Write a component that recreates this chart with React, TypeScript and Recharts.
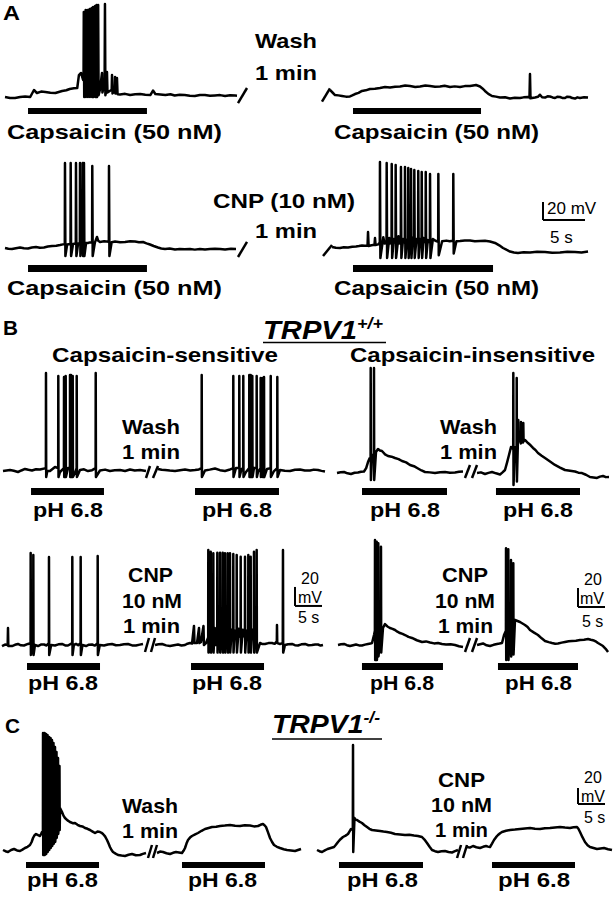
import React from 'react';
import { LineChart, Line, XAxis, YAxis, ReferenceArea, ReferenceLine } from 'recharts';

type Pt = [number, number]; // [time s, membrane potential mV]
type Seg = [number, number, number, number]; // t1, v1, t2, v2

// ---------- Panel A (capsaicin, wash / CNP) ----------
const traceA1: Pt[] = [
  [0, -60], [0.6, -61], [1.2, -61.1], [1.8, -60], [2.4, -59.4], [3.0, -60], [3.45, -52.2], [3.8, -55.6], [4.3, -54],
  [4.8, -54.4], [5.4, -55.2], [6.0, -55.6], [6.8, -53.3], [7.3, -52.5], [7.7, -51.1], [8.2, -50.4], [8.6, -50],
  [8.8, -35.6], [9.05, -33.3], [9.3, -41],
  [9.35, -40], [9.38, 34.4], [9.43, -60], [9.56, -40], [9.6, 36.7], [9.65, -60],
  [9.8, -40], [9.84, 36.7], [9.89, -60], [10.04, -40], [10.08, 37.8], [10.13, -60],
  [10.28, -40], [10.32, 38.9], [10.37, -60], [10.46, -40], [10.5, 40], [10.55, -60],
  [10.69, -40], [10.73, 41.1], [10.78, -60], [10.87, -40], [10.91, 42.2], [10.96, -60],
  [11.05, -40], [11.09, 42.2], [11.14, -58], [11.3, -52], [11.55, -33.3], [11.6, -55],
  [11.86, -45], [11.9, 43.3], [11.95, -58], [12.1, -52], [12.14, -32.2], [12.2, -55],
  [12.7, -52], [12.74, -35.6], [12.8, -56], [13.06, -54], [13.1, -37.8], [13.15, -56],
  [13.3, -55], [13.33, -38.9], [13.4, -57],
  [13.7, -57.2], [14.3, -56.5], [14.9, -57.8], [15.5, -57], [16.1, -56.7], [16.7, -57.5], [17.3, -57.8],
  [17.62, -52.8], [17.9, -56.7], [18.5, -57.2], [19.1, -57.8], [19.7, -57], [20.2, -58.3], [20.8, -57.5],
  [21.4, -57.8], [22.0, -58.5], [22.6, -58.9], [23.2, -57.8], [23.8, -57.8], [24.4, -58.6], [25.0, -58.3],
  [25.6, -57.9], [26.2, -58.9], [26.8, -58], [27.4, -58.3], [27.62, -58.5],
];
const traceA2: Pt[] = [
  [0.95, -52.2], [1.25, -55], [1.55, -57.8], [1.95, -58.2], [2.38, -58.9], [2.85, -59.6], [3.33, -59.4], [3.6, -58.3],
  [3.93, -56.7], [4.35, -55.4], [4.76, -53.3], [5.2, -52.6], [5.71, -51.1], [6.3, -50.8], [6.9, -50], [7.5, -49],
  [8.1, -49.4], [8.7, -48.5], [9.29, -48.3], [9.9, -47.2], [10.48, -47.8], [11.1, -48.8], [11.67, -48.3],
  [12.3, -47.3], [12.86, -47.8], [13.45, -48.6], [14.05, -48.3], [14.6, -47.6], [15.24, -48.9], [15.8, -48.2],
  [16.43, -48.9], [17.0, -47.9], [17.62, -47.8], [18.0, -47.2], [18.33, -46.7], [18.81, -48.3], [19.1, -50.5],
  [19.4, -53.3], [19.8, -56.5], [20.24, -58.9], [20.7, -59.6], [21.19, -60.6], [21.8, -60.2], [22.38, -61.7],
  [22.95, -60.9], [23.57, -61.1], [24.0, -60.4], [24.52, -60], [24.7, -60.5], [24.76, -34.4], [24.82, -61.5],
  [25.36, -60.6], [25.7, -59.8], [25.95, -57.5], [26.2, -60.3], [26.55, -60.6], [26.85, -59.2], [27.14, -59.4],
  [27.45, -60.5], [27.74, -61.1], [28.0, -59.8], [28.33, -60], [28.6, -61], [28.93, -61.1], [29.2, -59.6],
  [29.52, -60], [29.8, -61.2], [30.12, -61.7], [30.4, -60.4], [30.71, -61.1], [31.2, -60.3], [31.67, -60.6],
];
const traceA3: Pt[] = [
  [0, -60], [0.4, -60.8], [0.83, -61.1], [1.3, -60.2], [1.79, -59.4], [2.25, -60.3], [2.74, -60.6], [3.2, -59.5],
  [3.69, -58.9], [4.15, -59.8], [4.64, -59.4], [5.1, -58.4], [5.6, -57.8], [6.1, -57.4], [6.55, -56.7], [6.9, -56],
  [7.12, -55.6], [7.14, 34.4], [7.19, -68.9], [7.4, -56],
  [7.8, -55.5], [7.82, 34.4], [7.87, -68.9], [8.1, -55.5],
  [8.43, -55], [8.45, 34.4], [8.5, -68.9], [8.7, -55],
  [8.91, -55], [8.93, 34.4], [8.98, -68.9], [9.1, -55],
  [9.23, -55], [9.25, 34.4], [9.3, -68.9],
  [9.38, -55], [9.4, 34.4], [9.45, -68.9], [9.65, -54.5], [9.88, -54.4], [10.1, -53.8],
  [10.37, -54], [10.39, 31.1], [10.44, -68.9], [10.7, -54], [10.95, -47.8], [11.1, -52], [11.31, -53.3], [11.8, -52.6],
  [12.36, -53], [12.38, 31.1], [12.43, -68.9], [12.7, -53.5], [13.1, -52.8], [13.7, -53.6], [14.29, -53.3],
  [14.9, -52.5], [15.48, -52.8], [15.95, -53.6], [16.43, -53.3], [16.85, -54.8], [17.26, -56.1], [17.7, -57.8],
  [18.21, -59.4], [18.6, -60.5], [19.05, -61.1], [19.6, -60.6], [20.24, -61.7], [20.8, -61], [21.4, -61.5],
  [22.02, -61.1], [22.6, -61.8], [23.2, -61], [23.81, -61.7], [24.4, -61.2], [25.0, -60.8], [25.6, -61.1],
  [26.2, -61.7], [26.9, -60.9], [27.5, -61.1],
];
const traceA4: Pt[] = [
  [1.19, -58.9], [1.65, -59.8], [2.14, -60], [2.6, -59.2], [3.1, -59.4], [3.6, -58.6], [4.05, -58.3], [4.4, -57.8],
  [4.76, -57.2], [5.1, -57.6], [5.42, -57.5], [5.48, -42.2], [5.55, -57.8], [5.9, -57], [6.25, -56.5], [6.31, -48.9],
  [6.38, -56.7], [6.7, -56],
  [6.88, -54], [6.9, 35.6], [6.95, -71.1], [7.3, -48], [7.45, -55],
  [7.68, -54], [7.7, 34.4], [7.75, -71.1], [8.0, -49], [8.1, -55],
  [8.28, -54], [8.3, 33.3], [8.35, -71.1], [8.55, -50],
  [8.75, -54], [8.77, 32.2], [8.82, -71.1], [9.1, -47], [9.2, -55],
  [9.38, -54], [9.4, 30], [9.45, -71.1], [9.65, -50],
  [9.86, -54], [9.88, 30], [9.93, -71.1], [10.1, -51],
  [10.25, -54], [10.27, 28.9], [10.32, -71.1], [10.45, -52],
  [10.58, -54], [10.6, 27.8], [10.65, -71.1], [10.8, -49],
  [10.97, -54], [10.99, 26.7], [11.04, -71.1], [11.25, -50],
  [11.44, -54], [11.46, 25.6], [11.51, -71.1], [11.7, -50],
  [11.85, -54], [11.87, 24.4], [11.92, -71.1], [12.1, -49],
  [12.33, -54], [12.35, 24.4], [12.4, -71.1], [12.6, -51],
  [12.84, -54], [12.86, 22.2], [12.91, -71.1], [13.2, -50], [13.5, -52],
  [13.83, -53], [13.85, 22.2], [13.9, -68], [14.3, -52.5], [14.8, -51.8], [15.2, -52.4],
  [15.61, -52], [15.63, 22.2], [15.68, -66], [16.0, -52.5], [16.43, -52.2], [17.0, -51.6], [17.62, -51.7],
  [18.2, -52.4], [18.81, -52.2], [19.4, -52], [20.0, -52.8], [20.6, -54.4], [21.1, -57], [21.55, -60], [22.0, -62.2],
  [22.38, -63.9], [22.85, -65], [23.33, -65.6], [24.0, -64.8], [24.76, -65], [25.6, -64.2], [26.55, -64.4],
  [27.4, -65.2], [28.33, -65], [29.2, -64.3], [30.12, -64.4], [30.9, -65], [31.67, -63.9],
];
const barA1: [number, number] = [2.74, 16.9];
const barA2: [number, number] = [3.69, 18.93];
const barA3: [number, number] = [2.74, 16.9];
const barA4: [number, number] = [3.69, 20.36];

// ---------- Panel B (TRPV1+/+, pH 6.8) ----------
const traceB1: Pt[] = [
  [0, -61.1], [1.3, -60], [2.0, -60.8], [2.78, -62.1], [3.4, -60.5], [4.07, -58.9], [4.7, -59.8], [5.37, -60.5],
  [6.1, -59.2], [6.85, -59.5], [7.94, -58], [7.96, 42.1], [8.0, -67.4], [8.2, -61], [8.7, -61.1], [9.63, -56.8],
  [10.22, -58], [10.24, 38.9], [10.28, -67.4], [10.56, -62.1], [11.28, -58], [11.3, 37.9], [11.34, -67.4],
  [11.59, -58], [11.61, 38.9], [11.65, -67.4], [12.04, -57.9], [12.39, -58], [12.41, 40], [12.45, -67.4],
  [12.57, -58], [12.59, 40], [12.63, -67.4], [12.89, -58], [12.91, 38.9], [12.95, -67.4], [13.33, -63.2],
  [13.63, -58], [13.65, 38.9], [13.69, -67.4], [14.26, -60], [15.0, -59.3], [15.74, -61.1], [16.5, -60.2],
  [17.15, -58], [17.17, 42.1], [17.21, -67.4], [17.96, -60.5], [18.9, -59.6], [19.81, -61.1], [20.7, -60.3],
  [21.67, -60], [22.6, -61], [23.52, -59.5], [24.4, -60.6], [25.37, -60], [26.48, -61.1],
];
const traceB2: Pt[] = [
  [0.93, -58.9], [1.6, -59.8], [2.22, -60], [3.1, -60.6], [4.07, -61.1], [5.0, -60.2], [5.93, -59.5], [6.9, -60.5],
  [7.78, -60], [8.5, -59.4], [9.0, -58], [9.02, 40], [9.06, -67.4], [9.63, -60.5], [10.5, -59.6], [11.48, -58.4],
  [12.4, -60.2], [13.33, -61.1], [14.1, -59.8], [14.85, -58], [14.87, 38.9], [14.91, -67.4], [15.37, -57.9],
  [15.96, -58], [15.98, 38.9], [16.02, -67.4], [16.4, -59], [16.7, -58], [16.72, 38.9], [16.76, -67.4],
  [17.22, -62.1], [17.81, -58], [17.83, 40], [17.87, -67.4], [18.07, -58], [18.09, 40], [18.13, -67.4],
  [18.37, -58], [18.39, 38.9], [18.43, -67.4], [18.7, -57.9], [19.18, -58], [19.2, 38.9], [19.24, -67.4],
  [19.44, -62.1], [19.92, -58], [19.94, 36.8], [19.98, -67.4], [20.29, -58], [20.31, 36.8], [20.35, -67.4],
  [20.54, -58], [20.56, 37.9], [20.6, -67.4], [21.11, -58.9], [21.78, -58], [21.8, 38.9], [21.84, -67.4],
  [22.41, -61.1], [23.0, -58], [23.02, 37.9], [23.06, -67.4], [23.52, -60], [24.4, -60.8], [25.37, -61.1],
  [26.3, -59.7], [27.22, -59.5], [28.1, -60.6], [29.07, -60.5], [29.8, -59.6], [30.56, -60], [31.2, -60.9],
  [31.85, -61.6],
];
const traceB3: Pt[] = [
  [0, -63.2], [0.65, -62.4], [1.3, -62.1], [1.95, -63.5], [2.59, -64.2], [3.25, -62.9], [3.89, -62.6], [4.45, -61.8],
  [5.0, -61.6], [5.4, -58], [5.74, -51.6], [6.0, -48], [6.22, -47], [6.24, 47.4], [6.28, -70.5], [6.48, -44.2],
  [6.83, -45], [6.85, 47.4], [6.89, -70.5], [7.22, -41.1], [7.59, -37.9], [7.95, -39.5], [8.33, -40], [8.9, -43.5],
  [9.44, -45.3], [10.1, -46], [10.74, -47.4], [11.4, -48.5], [12.04, -50.5], [12.8, -52], [13.52, -54.7],
  [14.25, -56], [15.0, -58.4], [15.65, -60.5], [16.3, -62.1], [17.2, -62.5], [18.15, -63.2], [19.1, -62.4],
  [20.0, -62.1], [20.9, -63], [21.85, -62.6], [22.6, -61.9], [23.33, -61.6],
];
const traceB4: Pt[] = [
  [0.93, -63.2], [1.65, -62.5], [2.41, -64.2], [3.05, -63], [3.7, -62.1], [4.45, -63.5], [5.19, -64.7], [5.65, -62.5],
  [6.11, -60], [6.5, -52], [6.85, -44.2], [7.22, -35.8], [7.63, -38], [7.65, 42.1], [7.69, -75.8], [7.95, -36],
  [8.26, -38], [8.28, 36.8], [8.32, -72], [8.5, -30], [8.57, -7.4], [8.62, -30], [8.89, -28.4], [9.05, -32],
  [9.07, -9.5], [9.12, -31], [9.26, -29.5], [9.45, -31], [9.5, -10.5], [9.55, -30], [9.81, -28.4], [10.37, -31.6],
  [10.85, -34], [11.3, -36.8], [11.75, -39], [12.22, -42.1], [12.9, -45], [13.52, -47.4], [14.45, -51],
  [15.37, -54.7], [16.3, -57.5], [17.22, -60], [18.15, -60.8], [19.07, -61.6], [19.7, -62.8], [20.37, -63.2],
  [21.1, -65], [21.85, -67.4], [22.5, -67.8], [23.15, -68.4], [23.7, -67], [24.26, -66.3], [24.8, -67.5],
  [25.37, -67.4],
];
const traceB5: Pt[] = [
  [0, -61.1], [0.56, -59.5], [1.05, -60], [1.11, -42.1], [1.17, -61], [1.85, -61.1], [2.4, -59.8], [2.96, -58.9],
  [3.5, -60.3], [4.07, -60.5], [4.81, -58.9], [5.29, -58], [5.31, 36.8], [5.35, -70.5], [5.55, -60], [5.78, -58],
  [5.8, 34.7], [5.84, -70.5], [6.1, -60], [6.67, -61.1], [7.2, -59.6], [7.78, -59.5], [8.25, -60.5], [8.68, -58],
  [8.7, 32.6], [8.74, -70.5], [9.1, -60], [9.81, -60.5], [10.45, -59.3], [11.11, -58.9], [11.7, -60.4],
  [12.22, -60.5], [13.0, -58], [13.02, 32.6], [13.06, -70.5], [13.3, -60], [13.7, -58.9], [14.1, -60.2],
  [14.55, -58], [14.57, 32.6], [14.61, -70.5], [14.9, -60], [15.56, -61.1], [16.1, -59.7], [16.67, -59.5],
  [17.2, -60.6], [17.7, -58], [17.72, 33.7], [17.76, -70.5], [18.1, -60], [18.89, -60.5], [19.6, -59.4],
  [20.37, -58.9], [21.1, -60.3], [21.85, -60], [22.6, -59.2], [23.33, -58.9], [24.1, -60.4], [24.81, -60.5],
  [25.5, -59.6], [26.11, -58.9],
];
const traceB6: Pt[] = [
  [0.74, -60], [1.4, -59.2], [2.04, -58.9], [2.8, -60.4], [3.52, -61.1], [4.25, -60.2], [5.0, -59.5], [5.65, -60.6],
  [6.3, -60], [6.75, -58.6], [7.22, -57.9], [7.6, -58.5], [7.96, -40], [8.05, -58], [8.52, -57.9], [8.89, -42.1],
  [8.98, -58], [9.26, -56.8], [9.72, -40], [9.8, -60], [10.19, -57.9],
  [10.59, -52], [10.61, 40], [10.65, -68], [10.85, -45],
  [11.04, -52], [11.06, 38.2], [11.1, -68], [11.3, -44],
  [11.52, -52], [11.54, 36.5], [11.58, -68], [11.8, -42], [12.0, -60],
  [12.26, -52], [12.28, 37.2], [12.32, -68], [12.55, -45],
  [12.76, -52], [12.78, 37.2], [12.82, -68], [13.05, -44],
  [13.26, -52], [13.28, 37.2], [13.32, -68], [13.5, -46],
  [13.68, -52], [13.7, 36.5], [13.74, -68], [13.95, -43],
  [14.18, -52], [14.2, 36.5], [14.24, -68], [14.4, -45],
  [14.61, -52], [14.63, 36.5], [14.67, -68], [14.95, -44],
  [15.22, -52], [15.24, 35.8], [15.28, -68], [15.55, -45],
  [15.85, -52], [15.87, 34.7], [15.91, -68], [16.25, -43],
  [16.59, -52], [16.61, 32.9], [16.65, -68], [17.0, -44],
  [17.39, -52], [17.41, 32.9], [17.45, -68], [17.7, -45],
  [18.0, -52], [18.02, 34.7], [18.06, -68], [18.25, -46],
  [18.44, -52], [18.46, 32.9], [18.5, -68], [18.75, -44],
  [19.05, -52], [19.07, 38.2], [19.11, -68], [19.3, -46],
  [19.55, -52], [19.57, 40], [19.61, -68],
  [20.19, -57.9], [20.65, -59], [21.11, -58.9], [21.75, -58], [22.41, -57.9], [22.9, -58.8], [23.3, -56],
  [23.33, -38.9], [23.38, -58], [23.89, -58.9], [24.4, -58], [24.44, 40], [24.48, -68], [24.81, -60], [25.4, -59.2],
  [26.11, -58.9], [26.65, -60.2], [27.22, -60.5], [27.85, -59.3], [28.52, -58.9], [29.15, -60.3], [29.81, -60],
  [30.4, -59.4], [30.93, -59.5], [31.4, -60.6], [31.85, -60],
];
const traceB7: Pt[] = [
  [0, -60], [0.55, -59.3], [1.11, -58.9], [1.65, -60.2], [2.22, -61.1], [2.8, -60.3], [3.33, -59.5], [3.9, -60.4],
  [4.44, -60.5], [5.0, -59.6], [5.56, -58.9], [6.0, -58.5], [6.3, -57.9], [6.67, -49.5], [6.83, -45], [6.85, 50.5],
  [6.89, -75.8], [7.15, -45], [7.17, 48.7], [7.21, -75.8], [7.44, -45], [7.46, 47.1], [7.5, -72], [7.94, -44],
  [7.96, 43.5], [8.0, -68], [8.33, -42.1], [8.7, -37.9], [9.15, -40.5], [9.63, -42.1], [10.1, -43], [10.56, -44.2],
  [11.0, -46], [11.48, -47.4], [11.95, -48.3], [12.41, -49.5], [13.05, -51.5], [13.7, -52.6], [14.6, -55],
  [15.56, -56.8], [16.3, -56.2], [17.04, -57.4], [17.8, -58.3], [18.52, -57.9], [19.25, -59], [20.0, -59.5],
  [20.85, -59.2], [21.67, -60], [22.4, -61.3], [23.15, -62.1],
];
const traceB8: Pt[] = [
  [0.93, -60], [1.5, -59.2], [2.04, -58.4], [2.7, -60.3], [3.33, -61.1], [4.0, -59.8], [4.63, -58.9], [5.1, -58.5],
  [5.56, -57.9], [5.93, -49.5], [6.28, -45], [6.3, 41.8], [6.34, -75.8], [6.7, -42], [6.72, 40.7], [6.76, -75.8],
  [7.04, -31.6], [7.2, -35], [7.22, 29.5], [7.26, -72], [7.63, -36], [7.65, 26], [7.69, -70], [7.96, -33.7],
  [8.89, -35.8], [9.81, -38.9], [10.3, -41], [10.74, -44.2], [11.5, -47], [12.22, -49.5], [12.9, -53],
  [13.52, -55.8], [14.2, -57], [14.81, -57.9], [15.4, -58.6], [15.93, -58.4], [16.6, -57.5], [17.22, -56.8],
  [17.9, -56], [18.52, -55.8], [19.25, -55.5], [20.0, -54.7], [20.75, -54.4], [21.48, -53.7], [22.0, -54.5],
  [22.59, -55.3], [23.0, -56.5], [23.33, -57.9], [23.8, -59.5], [24.26, -61.1], [24.75, -64], [25.19, -67.4],
];
const barB1: [number, number] = [5.19, 18.7];
const barB2: [number, number] = [7.78, 23.33];
const barB3: [number, number] = [4.63, 20.37];
const barB4: [number, number] = [4.44, 20];
const barB5: [number, number] = [4.63, 18.15];
const barB6: [number, number] = [7.41, 20.93];
const barB7: [number, number] = [4.44, 19.44];
const barB8: [number, number] = [4.81, 19.63];

// ---------- Panel C (TRPV1-/-, pH 6.8) ----------
const traceC1: Pt[] = [
  [0, -60], [0.45, -61.5], [0.93, -62.5], [1.5, -60], [2.04, -58.75], [2.6, -60.5], [3.15, -61.25], [3.6, -59.5],
  [4.07, -57.5], [4.55, -56], [5.0, -53.75], [5.3, -50], [5.56, -45], [5.85, -41.5], [6.11, -40], [6.5, -41.5],
  [6.85, -42.5], [7.05, -40], [7.22, -37.5],
  [7.39, -40], [7.41, 86.25], [7.45, -66.25], [7.67, -40], [7.69, 86.25], [7.73, -66.25],
  [7.94, -40], [7.96, 85], [8.0, -65], [8.22, -40], [8.24, 83.75], [8.28, -62.5],
  [8.5, -38], [8.52, 81.25], [8.56, -60], [8.78, -36], [8.8, 80], [8.84, -57.5],
  [9.05, -34], [9.07, 77.5], [9.11, -55], [9.33, -32], [9.35, 73.75], [9.39, -52.5],
  [9.61, -30], [9.63, 68.75], [9.67, -50], [9.89, -28], [9.91, 62.5], [9.95, -45],
  [10.17, -25], [10.19, 55], [10.23, -40], [10.44, -20], [10.46, 45], [10.5, -35],
  [10.56, -7.5], [10.93, -12.5], [11.2, -17], [11.48, -20], [11.95, -23], [12.41, -25], [12.9, -26.5],
  [13.33, -26.25], [13.8, -28.5], [14.26, -30], [14.7, -30.5], [15.19, -32.5], [15.65, -33.5], [16.11, -35],
  [16.6, -37], [17.04, -38.75], [17.5, -37], [17.96, -37.5], [18.25, -38.5], [18.52, -40], [18.9, -43],
  [19.26, -47.5], [19.55, -52], [19.81, -56.25], [20.1, -60], [20.37, -62.5], [20.85, -64.5], [21.3, -66.25],
  [21.95, -67], [22.59, -67.5], [23.25, -66], [23.89, -65], [24.6, -66.5], [25.37, -66.25], [25.9, -64.8],
  [26.48, -63.75],
];
const traceC2: Pt[] = [
  [0.74, -63.75], [1.3, -62], [1.85, -62.5], [2.5, -64], [3.15, -65], [3.7, -63.5], [4.26, -62.5], [4.8, -63],
  [5.37, -63.75], [5.65, -61], [5.93, -57.5], [6.2, -52], [6.48, -47.5], [6.85, -44.5], [7.22, -42.5], [7.8, -40.5],
  [8.33, -38.75], [9.0, -36], [9.63, -33.75], [10.3, -32.5], [10.93, -31.25], [11.7, -31], [12.41, -30],
  [13.3, -29.5], [14.26, -28.75], [15.2, -29.8], [16.11, -30], [17.0, -29], [17.96, -29.4], [18.7, -30.5],
  [19.44, -30], [19.9, -28.5], [20.37, -27.5], [20.65, -29], [20.93, -31.25], [21.3, -38], [21.67, -45],
  [22.05, -50], [22.41, -53.75], [22.95, -56], [23.52, -57.5], [24.2, -59], [24.81, -60], [25.55, -60.5],
  [26.3, -61.25], [26.85, -60], [27.41, -58.75],
];
const traceC3: Pt[] = [
  [0, -60], [0.45, -61.5], [0.93, -62.5], [1.45, -60.5], [1.96, -58.75], [2.55, -57.5], [3.15, -56.25], [3.5, -53.5],
  [3.89, -50], [4.35, -46.5], [4.81, -43.75], [5.3, -42], [5.74, -40], [6.0, -37], [6.3, -33.75], [6.63, -35],
  [6.67, 71.25], [6.71, -62.5], [6.94, -20], [7.15, -22], [7.41, -22.5], [7.85, -24.5], [8.33, -26.25], [8.8, -29],
  [9.26, -31.25], [9.7, -33.5], [10.19, -35], [10.9, -35.5], [11.67, -36.25], [12.3, -37], [12.96, -37.5],
  [13.7, -38.5], [14.44, -40], [15.4, -40.5], [16.3, -41.25], [17.1, -41], [17.96, -41.9], [18.7, -42.5],
  [19.44, -43.75], [19.9, -47], [20.37, -51.25], [20.85, -56], [21.3, -60], [21.85, -61.5], [22.41, -62.5],
  [23.05, -61.5], [23.7, -61.25], [24.35, -62.5], [25.0, -63.1], [25.55, -61.5], [26.11, -60],
];
const traceC4: Pt[] = [
  [0.37, -56.25], [0.9, -57], [1.48, -55], [2.1, -56.5], [2.78, -57.5], [3.35, -56], [3.89, -55], [4.25, -55.8],
  [4.63, -56.25], [5.0, -52], [5.37, -47.5], [5.75, -44], [6.11, -41.25], [6.5, -39], [6.85, -37.5], [7.6, -36],
  [8.33, -35], [9.25, -34.5], [10.19, -33.75], [11.1, -33], [12.04, -32.5], [12.95, -33.5], [13.89, -33.75],
  [14.8, -32.8], [15.74, -32.5], [16.65, -31.8], [17.59, -31.25], [18.5, -32], [19.44, -32.5], [20.1, -31.5],
  [20.74, -31.25], [21.0, -33.5], [21.3, -37.5], [21.75, -44], [22.22, -50], [22.7, -54], [23.15, -56.25],
  [23.8, -57.5], [24.44, -58.75], [25.1, -58], [25.74, -57.5], [26.5, -59], [27.22, -60],
];
const barC1: [number, number] = [4.26, 17.78];
const barC2: [number, number] = [5.37, 20.74];
const barC3: [number, number] = [4.07, 19.63];
const barC4: [number, number] = [5, 20.37];

// ---------- drawing ----------
const REST = -60;
const FONT = '"Liberation Sans", Arial, Helvetica, sans-serif';

interface TraceProps {
  data: Pt[];
  left: number;
  top: number;
  width: number;
  height: number;
  x0: number; // page px of t = 0
  baseY: number; // page px of -60 mV
  pxPerS: number;
  pxPerMV: number;
  bar: [number, number];
  barY: [number, number]; // page px top / bottom of the drug bar
  breaks?: Seg[];
  scaleBar?: [number, number]; // corner of 20 mV / 5 s bar
}

const Trace = (p: TraceProps) => {
  const rows = p.data.map(([t, v]) => ({ t, v }));
  const toV = (py: number) => REST + (p.baseY - py) / p.pxPerMV;
  const xDomain: [number, number] = [(p.left - p.x0) / p.pxPerS, (p.left + p.width - p.x0) / p.pxPerS];
  const yDomain: [number, number] = [toV(p.top + p.height), toV(p.top)];
  const segs: Seg[] = [...(p.breaks || [])];
  if (p.scaleBar) {
    const [st, sv] = p.scaleBar;
    segs.push([st, sv + 20, st, sv], [st, sv, st + 5, sv]);
  }
  return (
    <div style={{ position: 'absolute', left: p.left, top: p.top }}>
      <LineChart width={p.width} height={p.height} data={rows} margin={{ top: 0, right: 0, bottom: 0, left: 0 }}>
        <XAxis dataKey="t" type="number" domain={xDomain} hide allowDataOverflow />
        <YAxis type="number" domain={yDomain} hide allowDataOverflow />
        <ReferenceArea
          x1={p.bar[0]}
          x2={p.bar[1]}
          y1={toV(p.barY[1])}
          y2={toV(p.barY[0])}
          fill="#000"
          fillOpacity={1}
          stroke="none"
          ifOverflow="visible"
        />
        {segs.map((s, i) => (
          <ReferenceLine
            key={i}
            segment={[{ x: s[0], y: s[1] }, { x: s[2], y: s[3] }]}
            stroke="#000"
            strokeWidth={i < (p.breaks || []).length ? 2.5 : 2}
            ifOverflow="visible"
          />
        ))}
        <Line
          dataKey="v"
          type="linear"
          stroke="#000"
          strokeWidth={2.5}
          strokeLinejoin="round"
          dot={false}
          activeDot={false}
          isAnimationActive={false}
        />
      </LineChart>
    </div>
  );
};

const Label = ({ x, y, w, children }: { x: number; y: number; w?: number; children: React.ReactNode }) => (
  <text
    x={x}
    y={y}
    fontSize={21}
    fontWeight="bold"
    textLength={w}
    lengthAdjust={w ? 'spacingAndGlyphs' : undefined}
  >
    {children}
  </text>
);

const Small = ({ x, y, children }: { x: number; y: number; children: React.ReactNode }) => (
  <text x={x} y={y} fontSize={16}>
    {children}
  </text>
);

const A = { pxPerS: 8.4, pxPerMV: 0.9 };
const B = { pxPerS: 5.4, pxPerMV: 0.95 };
const C = { pxPerS: 5.4, pxPerMV: 0.8 };

export default function App() {
  return (
    <div
      style={{
        position: 'absolute',
        left: 0,
        top: 0,
        width: 615,
        height: 900,
        background: '#fff',
        overflow: 'hidden',
        fontFamily: FONT,
      }}
    >
      {/* A */}
      <Trace data={traceA1} left={0} top={0} width={255} height={122} x0={5} baseY={97} {...A}
        bar={barA1} barY={[108, 114]} breaks={[[27.74, -66.7, 28.81, -50]]} />
      <Trace data={traceA2} left={315} top={0} width={300} height={122} x0={322} baseY={97} {...A}
        bar={barA2} barY={[108, 114]} breaks={[[0, -65.2, 0.95, -50.3]]} />
      <Trace data={traceA3} left={0} top={150} width={255} height={125} x0={5} baseY={248} {...A}
        bar={barA3} barY={[265, 272]} breaks={[[27.74, -70, 28.81, -53.3]]} />
      <Trace data={traceA4} left={315} top={150} width={300} height={125} x0={322} baseY={248} {...A}
        bar={barA4} barY={[265, 272]} breaks={[[0.12, -68.9, 1.19, -56.7]]} scaleBar={[26.31, -28.9]} />

      {/* B */}
      <Trace data={traceB1} left={0} top={360} width={160} height={140} x0={3} baseY={470} {...B}
        bar={barB1} barY={[488, 495]} breaks={[[26.48, -68.4, 27.22, -55.8]]} />
      <Trace data={traceB2} left={150} top={360} width={180} height={140} x0={153} baseY={470} {...B}
        bar={barB2} barY={[488, 495]} breaks={[[0, -68.4, 0.93, -55.8]]} />
      <Trace data={traceB3} left={330} top={360} width={145} height={140} x0={337} baseY={470} {...B}
        bar={barB3} barY={[488, 495]} breaks={[[23.7, -68.4, 24.63, -54.7]]} />
      <Trace data={traceB4} left={468} top={360} width={147} height={140} x0={472} baseY={470} {...B}
        bar={barB4} barY={[488, 495]} breaks={[[0, -68.4, 0.93, -54.7]]} />

      <Trace data={traceB5} left={0} top={535} width={160} height={140} x0={2} baseY={645} {...B}
        bar={barB5} barY={[663, 670]} breaks={[[26.48, -67.4, 27.22, -52.6]]} />
      <Trace data={traceB6} left={148} top={535} width={180} height={140} x0={151} baseY={645} {...B}
        bar={barB6} barY={[663, 670]} breaks={[[0, -67.4, 0.74, -52.6]]} scaleBar={[26.67, -18.9]} />
      <Trace data={traceB7} left={330} top={535} width={145} height={140} x0={338} baseY={645} {...B}
        bar={barB7} barY={[663, 670]} breaks={[[23.52, -67.4, 24.44, -52.6]]} />
      <Trace data={traceB8} left={468} top={535} width={147} height={140} x0={472} baseY={645} {...B}
        bar={barB8} barY={[663, 670]} breaks={[[0, -67.4, 0.93, -52.6]]} scaleBar={[19.63, -20]} />

      {/* C */}
      <Trace data={traceC1} left={0} top={725} width={160} height={150} x0={3} baseY={850} {...C}
        bar={barC1} barY={[862, 868]} breaks={[[26.85, -70, 27.59, -53.75]]} />
      <Trace data={traceC2} left={150} top={725} width={165} height={150} x0={153} baseY={850} {...C}
        bar={barC2} barY={[862, 868]} breaks={[[0, -70, 0.74, -53.75]]} />
      <Trace data={traceC3} left={312} top={725} width={155} height={150} x0={317} baseY={850} {...C}
        bar={barC3} barY={[862, 868]} breaks={[[25.93, -70, 26.67, -53.75]]} />
      <Trace data={traceC4} left={460} top={725} width={155} height={150} x0={465} baseY={850} {...C}
        bar={barC4} barY={[862, 868]} breaks={[[-0.37, -70, 0.37, -53.75]]} scaleBar={[20.93, -2.5]} />

      <svg width={615} height={900} style={{ position: 'absolute', left: 0, top: 0, pointerEvents: 'none' }}
        fontFamily={FONT} fill="#000">
        {/* panel A text */}
        <Label x={3} y={20} w={17}>A</Label>
        <Label x={255} y={48} w={62}>Wash</Label>
        <Label x={255} y={80} w={62}>1 min</Label>
        <Label x={7} y={139} w={215}>Capsaicin (50 nM)</Label>
        <Label x={334} y={139} w={205}>Capsaicin (50 nM)</Label>
        <Label x={213} y={208} w={142}>CNP (10 nM)</Label>
        <Label x={255} y={238} w={62}>1 min</Label>
        <Label x={7} y={295} w={215}>Capsaicin (50 nM)</Label>
        <Label x={334} y={295} w={205}>Capsaicin (50 nM)</Label>
        <text x={547} y={214} fontSize={17}>20 mV</text>
        <text x={550} y={243} fontSize={17}>5 s</text>

        {/* panel B text */}
        <Label x={3} y={335} w={15}>B</Label>
        <text x={263} y={339} fontSize={26} fontWeight="bold" fontStyle="italic" textLength={120}
          lengthAdjust="spacingAndGlyphs">
          TRPV1<tspan fontSize={16} dy={-10}>+/+</tspan>
        </text>
        <line x1={263} y1={342.5} x2={386} y2={342.5} stroke="#000" strokeWidth={1.5} />
        <Label x={52} y={362} w={226}>Capsaicin-sensitive</Label>
        <Label x={350} y={362} w={245}>Capsaicin-insensitive</Label>
        <Label x={122} y={434} w={58}>Wash</Label>
        <Label x={122} y={459} w={58}>1 min</Label>
        <Label x={440} y={434} w={57}>Wash</Label>
        <Label x={440} y={459} w={57}>1 min</Label>
        <Label x={33} y={517} w={70}>pH 6.8</Label>
        <Label x={202} y={517} w={70}>pH 6.8</Label>
        <Label x={370} y={517} w={70}>pH 6.8</Label>
        <Label x={503} y={517} w={70}>pH 6.8</Label>
        <Label x={128} y={582} w={45}>CNP</Label>
        <Label x={122} y={608} w={60}>10 nM</Label>
        <Label x={123} y={633} w={57}>1 min</Label>
        <Label x={442} y={582} w={46}>CNP</Label>
        <Label x={435} y={608} w={60}>10 nM</Label>
        <Label x={438} y={633} w={55}>1 min</Label>
        <Label x={28} y={690} w={70}>pH 6.8</Label>
        <Label x={192} y={690} w={70}>pH 6.8</Label>
        <Label x={370} y={690} w={64}>pH 6.8</Label>
        <Label x={505} y={690} w={67}>pH 6.8</Label>
        <Small x={301} y={584}>20</Small>
        <Small x={298} y={603}>mV</Small>
        <Small x={298} y={623}>5 s</Small>
        <Small x={584} y={585}>20</Small>
        <Small x={580} y={604}>mV</Small>
        <Small x={582} y={627}>5 s</Small>

        {/* panel C text */}
        <Label x={5} y={733} w={15}>C</Label>
        <text x={272} y={733} fontSize={26} fontWeight="bold" fontStyle="italic" textLength={108}
          lengthAdjust="spacingAndGlyphs">
          TRPV1<tspan fontSize={16} dy={-10}>-/-</tspan>
        </text>
        <line x1={272} y1={739} x2={382} y2={739} stroke="#000" strokeWidth={1.5} />
        <Label x={122} y={813} w={56}>Wash</Label>
        <Label x={122} y={838} w={56}>1 min</Label>
        <Label x={438} y={787} w={47}>CNP</Label>
        <Label x={431} y={812} w={61}>10 nM</Label>
        <Label x={435} y={837} w={53}>1 min</Label>
        <Label x={27} y={887} w={71}>pH 6.8</Label>
        <Label x={188} y={887} w={69}>pH 6.8</Label>
        <Label x={347} y={887} w={71}>pH 6.8</Label>
        <Label x={498} y={887} w={72}>pH 6.8</Label>
        <Small x={584} y={783}>20</Small>
        <Small x={581} y={802}>mV</Small>
        <Small x={584} y={823}>5 s</Small>
      </svg>
    </div>
  );
}
